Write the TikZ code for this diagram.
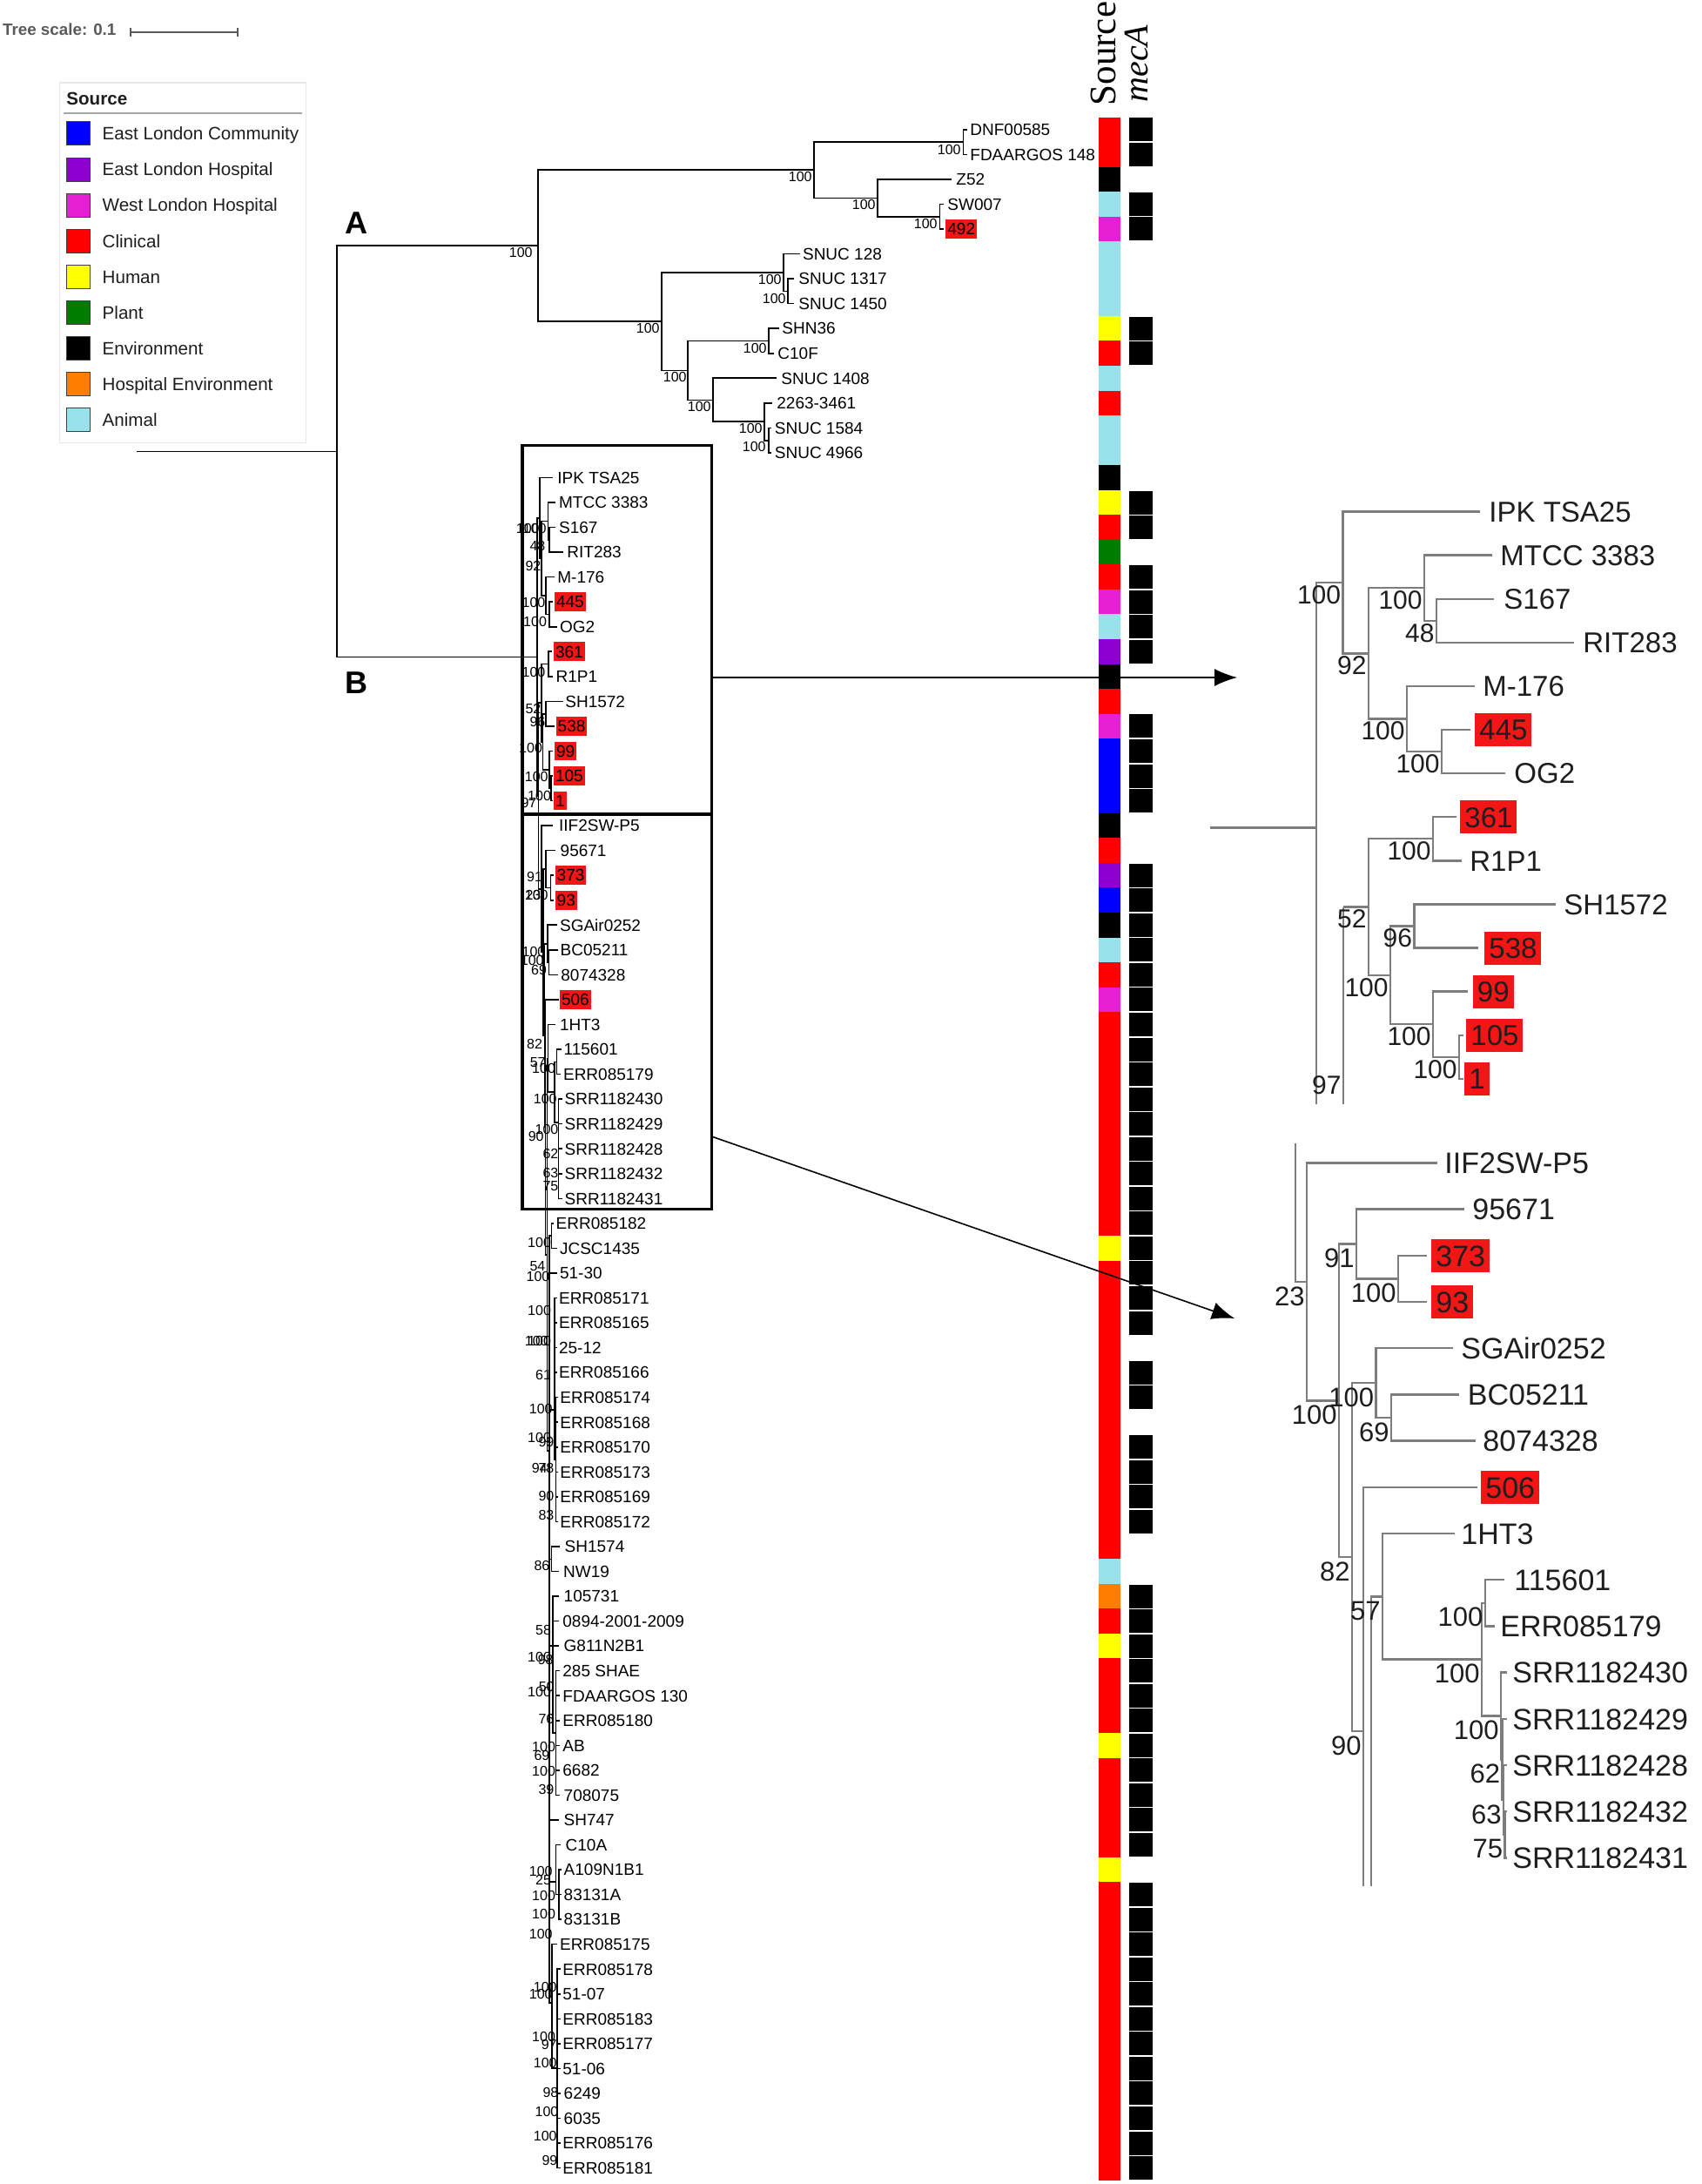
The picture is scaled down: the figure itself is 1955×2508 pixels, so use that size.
\documentclass[tikz,border=0pt]{standalone}
\usepackage{fontspec}
\setmainfont{Liberation Sans}
\newfontfamily\serifx{Liberation Serif}
\usetikzlibrary{arrows.meta}
\definecolor{cBlu}{RGB}{0,0,255}
\definecolor{cPur}{RGB}{140,0,210}
\definecolor{cMag}{RGB}{232,30,212}
\definecolor{cRed}{RGB}{255,0,0}
\definecolor{cYel}{RGB}{255,255,0}
\definecolor{cGrn}{RGB}{0,125,0}
\definecolor{cBlk}{RGB}{0,0,0}
\definecolor{cOra}{RGB}{255,125,0}
\definecolor{cAni}{RGB}{152,226,236}
\definecolor{hlred}{RGB}{242,22,22}
\definecolor{insetline}{RGB}{125,125,125}
\definecolor{insettext}{RGB}{30,30,30}
\definecolor{scalegray}{RGB}{90,90,90}
\newcounter{nn}
\newcommand\LF[5]{\pgfmathsetmacro\yy{148.8+28.546*#3}\draw[tl] (#1) |- (#2,\yy); \stepcounter{nn}\node[mlab] (lf\arabic{nn}) at (#4,\yy) {#5};}
\newcommand\LFH[5]{\pgfmathsetmacro\yy{148.8+28.546*#3}\draw[tl] (#1) |- (#2,\yy); \stepcounter{nn}\node[mhl] (lf\arabic{nn}) at (#4,\yy) {#5};}
\newcommand\MB[3]{\stepcounter{nn}\node[mbs] (bs\arabic{nn}) at (#1,#2) {#3};}
\newcommand\ULF[5]{\pgfmathsetmacro\yy{587.5+50.1*#3}\draw[il] (#1) |- (#2,\yy); \stepcounter{nn}\node[ulab] (ul\arabic{nn}) at (#4,\yy) {#5};}
\newcommand\ULFH[5]{\pgfmathsetmacro\yy{587.5+50.1*#3}\draw[il] (#1) |- (#2,\yy); \stepcounter{nn}\node[uhl] (ul\arabic{nn}) at (#4,\yy) {#5};}
\newcommand\UB[2]{\stepcounter{nn}\node[ubs] (ub\arabic{nn}) at ([xshift=-1pt,yshift=-1.25pt]#1) {#2};}
\newcommand\LLF[5]{\pgfmathsetmacro\yy{1335.4+53.2*#3}\draw[il] (#1) |- (#2,\yy); \stepcounter{nn}\node[llab] (ll\arabic{nn}) at (#4,\yy) {#5};}
\newcommand\LLFH[5]{\pgfmathsetmacro\yy{1335.4+53.2*#3}\draw[il] (#1) |- (#2,\yy); \stepcounter{nn}\node[lhl] (ll\arabic{nn}) at (#4,\yy) {#5};}
\newcommand\LBS[2]{\stepcounter{nn}\node[lbs] (lb\arabic{nn}) at ([xshift=-1pt,yshift=-2.25pt]#1) {#2};}
\begin{document}
\begin{tikzpicture}[x=0.5pt,y=-0.5pt,
 tl/.style={line width=0.8pt,black},
 il/.style={line width=1.2pt,insetline},
 mlab/.style={anchor=west,inner sep=0pt,font=\fontsize{9.5pt}{11pt}\selectfont,text height=6.8pt,text depth=0pt},
 mhl/.style={mlab,fill=hlred,inner xsep=1pt,minimum height=10.8pt},
 mbs/.style={anchor=east,inner sep=0pt,font=\fontsize{8pt}{9pt}\selectfont,text height=5.75pt,text depth=0pt},
 ulab/.style={anchor=west,inner sep=0pt,text=insettext,font=\fontsize{16.5pt}{18pt}\selectfont,text height=11.8pt,text depth=0pt},
 uhl/.style={ulab,fill=hlred,inner xsep=2.5pt,minimum height=19pt},
 ubs/.style={anchor=north east,inner sep=0pt,text=insettext,font=\fontsize{15pt}{17pt}\selectfont,text height=10.7pt,text depth=0pt},
 llab/.style={anchor=west,inner sep=0pt,text=insettext,font=\fontsize{17pt}{19pt}\selectfont,text height=12.2pt,text depth=0pt},
 lhl/.style={llab,fill=hlred,inner xsep=2.5pt,minimum height=19pt},
 lbs/.style={anchor=north east,inner sep=0pt,text=insettext,font=\fontsize{15.5pt}{17pt}\selectfont,text height=11.1pt,text depth=0pt},
 boxline/.style={line width=1.65pt,black},
 arr/.style={line width=0.8pt,black,-{Latex[length=13pt,width=10pt]}},
 legtxt/.style={anchor=west,inner sep=0pt,text={rgb,255:red,30;green,30;blue,30},font=\fontsize{10.3pt}{12pt}\selectfont,text height=7.4pt,text depth=0pt}
]
\fill[white] (0,0) rectangle (1955,2508);
\useasboundingbox (0,0) rectangle (1955,2508);

% ---------- tree scale ----------
\node[anchor=west,inner sep=0pt,text=scalegray,font=\bfseries\fontsize{9.4pt}{11pt}\selectfont,text height=6.7pt,text depth=0pt] (tscale) at (2.7,33.5) {Tree scale: 0.1};
\coordinate (sb1) at (150,36.7); \coordinate (sb2) at (272.7,36.7);
\draw[scalegray,line width=0.8pt] (sb1) -- (sb2);
\draw[scalegray,line width=0.8pt] ([yshift=2.5pt]sb1) -- ([yshift=-2.5pt]sb1);
\draw[scalegray,line width=0.8pt] ([yshift=2.5pt]sb2) -- ([yshift=-2.5pt]sb2);

% ---------- legend ----------
\draw[draw={rgb,255:red,232;green,232;blue,232},line width=0.6pt] (68.3,95) rectangle (351.7,508.3);
\node[legtxt,font=\bfseries\fontsize{10.3pt}{12pt}\selectfont] (legtitle) at (76,112.7) {Source};
\draw[gray!70,line width=0.8pt] (73.3,130) -- (346.7,130);
\foreach \c/\t [count=\k from 0] in {cBlu/East London Community,cPur/East London Hospital,cMag/West London Hospital,cRed/Clinical,cYel/Human,cGrn/Plant,cBlk/Environment,cOra/Hospital Environment,cAni/Animal}{
  \node[fill=\c,draw=black!75,line width=0.4pt,minimum size=13.5pt,inner sep=0pt] (lsq\k) at (89.7,{153.3+41.1*\k}) {};
  \node[legtxt] (ltx\k) at (117.3,{153.3+41.1*\k}) {\t};
}

% ---------- root, A, B ----------
\coordinate (R0) at (157,518.3);
\coordinate (R) at (387,518.3);
\coordinate (nA) at (617.7,282.2);
\coordinate (rB) at (616.7,754.4);
\draw[tl] (R0) -- (R);
\draw[tl] (R) |- (nA);
\draw[tl] (R) |- (rB);
\node[inner sep=0pt,font=\bfseries\fontsize{18pt}{20pt}\selectfont,text height=12.9pt,text depth=0pt] (labA) at (409,256) {A};
\node[inner sep=0pt,font=\bfseries\fontsize{18pt}{20pt}\selectfont,text height=12.9pt,text depth=0pt] (labB) at (409,784) {B};

% ---------- clade A ----------
\coordinate (nTop) at (935,195.2);
\coordinate (nDNF) at (1106.3,163.1);
\coordinate (nZ) at (1008,227.3);
\coordinate (nSW) at (1079.5,248.7);
\coordinate (nLow) at (760,369.2);
\coordinate (nSN1) at (900,313);
\coordinate (nSN2) at (905,334.4);
\coordinate (nSHU) at (790,425.4);
\coordinate (nSHN) at (883,391.5);
\coordinate (nS14) at (819,459.3);
\coordinate (n226) at (878,484.2);
\coordinate (nS12) at (883,505.7);
\foreach \p/\q in {nA/nTop,nA/nLow,nTop/nDNF,nTop/nZ,nZ/nSW,nLow/nSN1,nLow/nSHU,nSN1/nSN2,nSHU/nSHN,nSHU/nS14,nS14/n226,n226/nS12}
  \draw[tl] (\p) |- (\q);
\LF{nDNF}{1111}{0}{1114}{DNF00585}
\LF{nDNF}{1111}{1}{1114}{FDAARGOS 148}
\LF{nZ}{1093}{2}{1098}{Z52}
\LF{nSW}{1084}{3}{1088}{SW007}
\LFH{nSW}{1084}{4}{1086}{492}
\LF{nSN1}{918.5}{5}{921.7}{SNUC 128}
\LF{nSN2}{912}{6}{917}{SNUC 1317}
\LF{nSN2}{912}{7}{917}{SNUC 1450}
\LF{nSHN}{895}{8}{898}{SHN36}
\LF{nSHN}{888.6}{9}{893}{C10F}
\LF{nS14}{891.7}{10}{897}{SNUC 1408}
\LF{n226}{887}{11}{892}{2263-3461}
\LF{nS12}{886}{12}{889.5}{SNUC 1584}
\LF{nS12}{886}{13}{889.5}{SNUC 4966}
\MB{612}{290}{100}\MB{933}{203}{100}\MB{1104}{171.5}{100}\MB{1006}{235}{100}\MB{1077}{256.7}{100}
\MB{758}{377}{100}\MB{898}{321}{100}\MB{903}{342.5}{100}\MB{789}{433}{100}\MB{881}{400}{100}
\MB{817}{466.7}{100}\MB{876}{491.7}{100}\MB{880}{513}{100}

% ---------- clade B (compressed) ----------
\coordinate (nU) at (620,594.8);
\coordinate (n92) at (622,641.2);
\coordinate (nM) at (629.3,598.4);
\coordinate (n48) at (631,619.8);
\coordinate (nM2) at (627,684);
\coordinate (n445) at (630.7,705.5);
\coordinate (n97) at (618.5,914);
\coordinate (n52) at (621.7,807.2);
\coordinate (n361) at (630,762.5);
\coordinate (n100b) at (623.5,851.8);
\coordinate (n96) at (627,819.7);
\coordinate (n99) at (630.7,883.9);
\coordinate (n105) at (632.7,905.3);
\coordinate (n23) at (622,1020.8);
\coordinate (n100c) at (624,1093.5);
\coordinate (n91) at (626.7,998);
\coordinate (n100g) at (632.3,1019.5);
\coordinate (n82) at (625.5,1189);
\coordinate (n100d) at (629,1083.7);
\coordinate (n69) at (630.5,1105.1);
\coordinate (n90) at (626.5,1294.3);
\coordinate (n54) at (628.3,1440.7);
\coordinate (n57) at (629.5,1215.3);
\coordinate (n100e) at (637,1254.1);
\coordinate (n100f) at (639.5,1219.3);
\coordinate (nSRR) at (641.5,1288.9);
\coordinate (R2) at (630.8,1666.1);
\coordinate (nE) at (633.3,1419.1);
\coordinate (nER) at (636.7,1619);
\coordinate (nER2) at (638.3,1676);
\coordinate (nSH) at (633.3,1790.3);
\coordinate (nG1) at (635,1890);
\coordinate (nG2) at (638.3,1990);
\coordinate (nC) at (638.3,2161);
\coordinate (nC2) at (641.7,2175.6);
\coordinate (nF) at (634,2300);
\coordinate (nF2) at (640,2375);
\foreach \p/\q in {rB/nU,rB/n97,nU/n92,n92/nM,n92/nM2,nM/n48,nM2/n445,n97/n52,n97/n23,n52/n361,n52/n100b,n100b/n96,n100b/n99,n99/n105,n23/n100c,n100c/n91,n100c/n82,n91/n100g,n82/n100d,n82/n90,n100d/n69,n90/n54,n54/n57,n54/R2,n57/n100e,n100e/n100f,n100e/nSRR,R2/nE,R2/nER,R2/nSH,R2/nG1,R2/nC,R2/nF,nER/nER2,nG1/nG2,nC/nC2,nF/nF2}
  \draw[tl] (\p) |- (\q);
\LF{nU}{635}{14}{640}{IPK TSA25}
\LF{nM}{638}{15}{641.7}{MTCC 3383}
\LF{n48}{638}{16}{641.7}{S167}
\LF{n48}{647}{17}{651}{RIT283}
\LF{nM2}{636.7}{18}{640}{M-176}
\LFH{n445}{635}{19}{636.7}{445}
\LF{n445}{640}{20}{642.7}{OG2}
\LFH{n361}{634}{21}{635.7}{361}
\LF{n361}{635}{22}{638.3}{R1P1}
\LF{n96}{646.7}{23}{649}{SH1572}
\LFH{n96}{637}{24}{638.3}{538}
\LFH{n99}{635}{25}{636.7}{99}
\LFH{n105}{634.5}{26}{635.7}{105}
\LFH{n105}{634.5}{27}{635.7}{1}
\LF{n23}{635}{28}{641.7}{IIF2SW-P5}
\LF{n91}{638.3}{29}{643.3}{95671}
\LFH{n100g}{636}{30}{637.3}{373}
\LFH{n100g}{636}{31}{637.3}{93}
\LF{n100d}{640}{32}{642.7}{SGAir0252}
\LF{n69}{640.5}{33}{643.3}{BC05211}
\LF{n69}{640.7}{34}{644}{8074328}
\LFH{n90}{641.5}{35}{642.7}{506}
\LF{n57}{638.3}{36}{642.7}{1HT3}
\LF{n100f}{645}{37}{647.3}{115601}
\LF{n100f}{644}{38}{646.7}{ERR085179}
\LF{nSRR}{646}{39}{648.3}{SRR1182430}
\LF{nSRR}{646}{40}{648.3}{SRR1182429}
\LF{nSRR}{646}{41}{648.3}{SRR1182428}
\LF{nSRR}{646}{42}{648.3}{SRR1182432}
\LF{nSRR}{646}{43}{648.3}{SRR1182431}
\LF{nE}{636}{44}{638.3}{ERR085182}
\LF{nE}{640}{45}{642.7}{JCSC1435}
\LF{R2}{640}{46}{642.7}{51-30}
\LF{nER}{640}{47}{641.7}{ERR085171}
\LF{nER}{640}{48}{641.7}{ERR085165}
\LF{nER}{640}{49}{641.7}{25-12}
\LF{nER}{640}{50}{641.7}{ERR085166}
\LF{nER2}{641}{51}{643}{ERR085174}
\LF{nER2}{641}{52}{643}{ERR085168}
\LF{nER2}{641}{53}{643}{ERR085170}
\LF{nER2}{641}{54}{643}{ERR085173}
\LF{nER2}{641}{55}{643}{ERR085169}
\LF{nER2}{641}{56}{643}{ERR085172}
\LF{nSH}{643.3}{57}{648.3}{SH1574}
\LF{nSH}{641.7}{58}{646.7}{NW19}
\LF{nG1}{641.7}{59}{647.3}{105731}
\LF{nG1}{641.7}{60}{646}{0894-2001-2009}
\LF{nG1}{641.7}{61}{647.3}{G811N2B1}
\LF{nG2}{643}{62}{646}{285 SHAE}
\LF{nG2}{643}{63}{646}{FDAARGOS 130}
\LF{nG2}{643}{64}{646}{ERR085180}
\LF{nG2}{643}{65}{646}{AB}
\LF{nG2}{643}{66}{646}{6682}
\LF{nG2}{643}{67}{647.3}{708075}
\LF{R2}{641.7}{68}{647.3}{SH747}
\LF{nC}{644}{69}{649.3}{C10A}
\LF{nC2}{644.5}{70}{647.3}{A109N1B1}
\LF{nC2}{644.5}{71}{647.3}{83131A}
\LF{nC2}{644.5}{72}{647.3}{83131B}
\LF{nF}{640}{73}{642.7}{ERR085175}
\LF{nF2}{644}{74}{646}{ERR085178}
\LF{nF2}{644}{75}{646}{51-07}
\LF{nF2}{644}{76}{646}{ERR085183}
\LF{nF2}{644}{77}{646}{ERR085177}
\LF{nF2}{644}{78}{646}{51-06}
\LF{nF2}{644}{79}{647.3}{6249}
\LF{nF2}{644}{80}{647.3}{6035}
\LF{nF2}{644}{81}{646}{ERR085176}
\LF{nF2}{644}{82}{646}{ERR085181}
% bootstrap labels B
\MB{620}{606.7}{100}\MB{628}{606.7}{100}\MB{626.7}{626.7}{48}\MB{621.7}{650}{92}\MB{626.7}{691.7}{100}
\MB{628.3}{713.3}{100}\MB{626.7}{771.7}{100}\MB{621.7}{813.3}{52}\MB{626.7}{828.3}{96}\MB{623.3}{858.3}{100}
\MB{630}{891.7}{100}\MB{633.3}{913.3}{100}\MB{616.7}{921.7}{97}
\MB{623.3}{1006.7}{91}\MB{621.7}{1027.3}{23}\MB{630}{1027.3}{100}\MB{626.7}{1092.7}{100}\MB{625}{1102.7}{100}
\MB{628.3}{1113.3}{69}\MB{623.3}{1198.3}{82}\MB{627}{1220}{57}\MB{638.3}{1226.7}{100}\MB{640}{1261.7}{100}
\MB{641.7}{1296.7}{100}\MB{625}{1305}{90}\MB{641.7}{1325}{62}\MB{641.7}{1346.7}{63}\MB{641.7}{1361.7}{75}
\MB{633.3}{1427}{100}\MB{626.7}{1453.7}{54}\MB{631.7}{1466}{100}\MB{633.3}{1504.8}{100}\MB{630}{1540}{100}
\MB{633.3}{1540}{100}\MB{633.3}{1579}{61}\MB{635}{1617.8}{100}\MB{633.3}{1651}{100}\MB{636.7}{1656}{99}
\MB{629}{1686}{94}\MB{636.7}{1686}{78}\MB{636.7}{1717.8}{90}\MB{636.7}{1740}{83}\MB{631.7}{1797.4}{86}
\MB{633.3}{1871.5}{58}\MB{633.3}{1903}{100}\MB{636}{1906}{98}\MB{633.3}{1943}{100}\MB{637}{1937}{50}
\MB{636.7}{1974}{76}\MB{638.3}{2005.5}{100}\MB{631.7}{2016}{69}\MB{638.3}{2033.4}{100}\MB{636.7}{2054.4}{39}
\MB{635}{2148.8}{100}\MB{633.3}{2159}{25}\MB{638.3}{2176.8}{100}\MB{638.3}{2197.8}{100}\MB{635}{2220.5}{100}
\MB{640}{2281.7}{100}\MB{635}{2290}{100}\MB{638.3}{2339}{100}\MB{640}{2348}{97}\MB{640}{2369}{100}
\MB{641.7}{2402.3}{98}\MB{641.7}{2425}{100}\MB{640}{2453}{100}\MB{640.7}{2481}{99}

% ---------- boxes ----------
\draw[boxline] (600,511.7) rectangle (817.3,935);
\draw[boxline] (600,935) rectangle (817.3,1388.3);

% ---------- source / mecA strips ----------
\foreach \c [count=\i from 0] in {cRed,cRed,cBlk,cAni,cMag,cAni,cAni,cAni,cYel,cRed,cAni,cRed,cAni,cAni,
 cBlk,cYel,cRed,cGrn,cRed,cMag,cAni,cPur,cBlk,cRed,cMag,cBlu,cBlu,cBlu,
 cBlk,cRed,cPur,cBlu,cBlk,cAni,cRed,cMag,cRed,cRed,cRed,cRed,cRed,cRed,cRed,cRed,
 cRed,cYel,cRed,cRed,cRed,cRed,cRed,cRed,cRed,cRed,cRed,cRed,cRed,cRed,
 cAni,cOra,cRed,cYel,cRed,cRed,cRed,cYel,cRed,cRed,cRed,cRed,cYel,
 cRed,cRed,cRed,cRed,cRed,cRed,cRed,cRed,cRed,cRed,cRed,cRed}
  \fill[\c] (1262,{148.8+28.546*\i-14.3}) rectangle (1287,{148.8+28.546*\i+14.3});
\foreach \i in {0,1,3,4,8,9,15,16,18,19,20,21,24,25,26,27,30,31,32,33,34,35,36,37,38,39,40,41,42,43,44,45,46,47,48,50,51,53,54,55,56,59,60,61,62,63,64,65,66,67,68,69,71,72,73,74,75,76,77,78,79,80,81,82}
  \fill[black] (1297,{148.8+28.546*\i-13.5}) rectangle (1324,{148.8+28.546*\i+13.5});
\node[rotate=90,anchor=base west,inner sep=0pt,font=\serifx\fontsize{21.5pt}{24pt}\selectfont] (hsrc) at (1281.7,121.7) {Source};
\node[rotate=90,anchor=base west,inner sep=0pt,font=\serifx\itshape\fontsize{20pt}{22pt}\selectfont] (hmec) at (1318,118) {mecA};

% ---------- arrows ----------
\coordinate (a1s) at (817.3,778); \coordinate (a1e) at (1421,778);
\coordinate (a2s) at (817.3,1305); \coordinate (a2e) at (1418,1514);
\draw[arr] (a1s) -- (a1e);
\draw[arr] (a2s) -- (a2e);

% ---------- upper inset ----------
\coordinate (uR0) at (1390,950.6);
\coordinate (uR) at (1512,950.6);
\coordinate (uRb) at (1512,1268);
\coordinate (nUu) at (1542.5,668.9);
\coordinate (n92u) at (1572,750.3);
\coordinate (nMu) at (1636,675.2);
\coordinate (n48u) at (1650,712.75);
\coordinate (nM2u) at (1616,825.5);
\coordinate (n445u) at (1656,863.05);
\coordinate (n97u) at (1543,1041.5);
\coordinate (n97ub) at (1543,1268);
\coordinate (n52u) at (1572,1041.5);
\coordinate (n361u) at (1646,963.25);
\coordinate (n100bu) at (1597,1119.8);
\coordinate (n96u) at (1624.5,1063.45);
\coordinate (n99u) at (1646,1176.2);
\coordinate (n105u) at (1676,1213.75);
\draw[il] (uR0) -- (uR);
\draw[il] (uRb) |- (nUu);
\draw[il] (n97ub) -- (n97u);
\foreach \p/\q in {nUu/n92u,n92u/nMu,n92u/nM2u,nMu/n48u,nM2u/n445u,n97u/n52u,n52u/n361u,n52u/n100bu,n100bu/n96u,n100bu/n99u,n99u/n105u}
  \draw[il] (\p) |- (\q);
\ULF{nUu}{1700}{0}{1710}{IPK TSA25}
\ULF{nMu}{1714}{1}{1723}{MTCC 3383}
\ULF{n48u}{1716}{2}{1727}{S167}
\ULF{n48u}{1808}{3}{1818}{RIT283}
\ULF{nM2u}{1694}{4}{1703}{M-176}
\ULFH{n445u}{1689}{5}{1694}{445}
\ULF{n445u}{1729}{6}{1739}{OG2}
\ULFH{n361u}{1673}{7}{1677}{361}
\ULF{n361u}{1679}{8}{1688}{R1P1}
\ULF{n96u}{1787}{9}{1796}{SH1572}
\ULFH{n96u}{1698}{10}{1705}{538}
\ULFH{n99u}{1686}{11}{1691.5}{99}
\ULFH{n105u}{1681}{12}{1684}{105}
\ULFH{n105u}{1681}{13}{1682}{1}
\UB{nUu}{100}\UB{n92u}{92}\UB{nMu}{100}\UB{n48u}{48}\UB{nM2u}{100}\UB{n445u}{100}
\UB{n361u}{100}\UB{n52u}{52}\UB{n96u}{96}\UB{n100bu}{100}\UB{n99u}{100}\UB{n105u}{100}
\node[ubs] (u97) at (1541,1235) {97};

% ---------- lower inset ----------
\coordinate (n97Lt) at (1488,1312.7);
\coordinate (n23L) at (1501,1471.9);
\coordinate (n100cL) at (1538,1608.3);
\coordinate (n91L) at (1558,1428.5);
\coordinate (n100gL) at (1606,1468.4);
\coordinate (n82L) at (1553,1788);
\coordinate (n100dL) at (1580.6,1588.1);
\coordinate (n69L) at (1598,1628);
\coordinate (n90L) at (1566,1988);
\coordinate (n90Lb) at (1566,2166);
\coordinate (nXLb) at (1575,2166);
\coordinate (n57L) at (1588,1833.3);
\coordinate (n100eL) at (1702,1905.65);
\coordinate (n100fL) at (1705.7,1840.8);
\coordinate (n100sL) at (1724,1970.5);
\coordinate (n62L) at (1725.5,2020.35);
\coordinate (n63L) at (1727,2066.9);
\coordinate (n75L) at (1728.5,2106.8);
\foreach \p/\q in {n97Lt/n23L,n23L/n100cL,n100cL/n91L,n100cL/n82L,n91L/n100gL,n82L/n100dL,n82L/n90L,n100dL/n69L,nXLb/n57L,n57L/n100eL,n100eL/n100fL,n100eL/n100sL,n100sL/n62L,n62L/n63L,n63L/n75L}
  \draw[il] (\p) |- (\q);
\LLF{n23L}{1650.5}{0}{1659}{IIF2SW-P5}
\LLF{n91L}{1682}{1}{1691}{95671}
\LLFH{n100gL}{1639}{2}{1644}{373}
\LLFH{n100gL}{1639}{3}{1644}{93}
\LLF{n100dL}{1669}{4}{1678}{SGAir0252}
\LLF{n69L}{1676}{5}{1685.5}{BC05211}
\LLF{n69L}{1694.6}{6}{1703}{8074328}
\LLFH{n90Lb}{1696.5}{7}{1701}{506}
\LLF{n57L}{1670.7}{8}{1678}{1HT3}
\LLF{n100fL}{1727.8}{9}{1739}{115601}
\LLF{n100fL}{1716.7}{10}{1723}{ERR085179}
\LLF{n100sL}{1731.4}{11}{1737}{SRR1182430}
\LLF{n62L}{1731.4}{12}{1737}{SRR1182429}
\LLF{n63L}{1731.4}{13}{1737}{SRR1182428}
\LLF{n75L}{1731.4}{14}{1737}{SRR1182432}
\LLF{n75L}{1731.4}{15}{1737}{SRR1182431}
\LBS{n23L}{23}\LBS{n100cL}{100}\LBS{n91L}{91}\LBS{n100gL}{100}\LBS{n100dL}{100}\LBS{n69L}{69}
\LBS{n82L}{82}\LBS{n90L}{90}\LBS{n57L}{57}\LBS{n100eL}{100}\LBS{n100fL}{100}\LBS{n100sL}{100}
\LBS{n62L}{62}\LBS{n63L}{63}\LBS{n75L}{75}
\end{tikzpicture}
\end{document}
